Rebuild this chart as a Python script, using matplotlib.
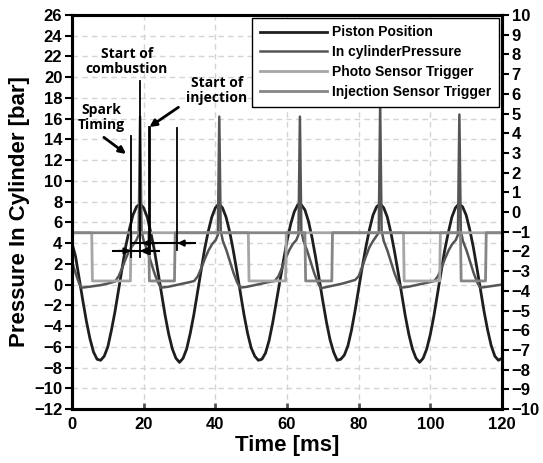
import numpy as np
import matplotlib
matplotlib.use("Agg")
import matplotlib.pyplot as plt

plt.rcParams['font.family'] = ['Liberation Sans', 'DejaVu Sans']
plt.rcParams['font.weight'] = 'bold'

piston_t = list(range(0, 121))
piston_v = [4.0, 2.7, 0.6, -1.5, -3.5, -5.2, -6.5, -7.2, -7.3, -6.9,
            -6.0, -4.4, -2.6, -0.5, 1.6, 3.7, 5.3, 6.7, 7.5, 7.8,
            7.4, 6.5, 5.0, 3.3, 1.2, -0.9, -3.0, -4.8, -6.2, -7.1,
            -7.5, -7.1, -6.2, -4.7, -2.9, -0.8, 1.3, 3.4, 5.1, 6.5,
            7.4, 7.8, 7.4, 6.5, 5.1, 3.3, 1.3, -0.8, -2.9, -4.7,
            -6.1, -6.9, -7.3, -7.2, -6.6, -5.4, -3.7, -1.7, 0.3, 2.3,
            4.2, 5.8, 7.0, 7.7, 7.7, 7.2, 6.1, 4.5, 2.6, 0.5,
            -1.6, -3.6, -5.3, -6.5, -7.3, -7.2, -6.8, -5.9, -4.4, -2.5,
            -0.4, 1.7, 3.6, 5.3, 6.7, 7.5, 7.8, 7.4, 6.5, 5.0,
            3.2, 1.2, -0.9, -3.0, -4.8, -6.2, -7.1, -7.5, -7.1, -6.2,
            -4.8, -3.0, -0.9, 1.2, 3.3, 5.0, 6.5, 7.4, 7.8, 7.5,
            6.7, 5.3, 3.6, 1.6, -0.5, -2.6, -4.4, -5.9, -6.9, -7.3,
            -7.1]

# in-cylinder pressure
pressure_t = [0, 1, 2, 2.6, 5, 8, 10, 12, 13, 14, 15, 16, 17, 18, 18.6, 19.0, 19.4,
              20, 21, 22, 23, 24, 24.8, 27, 29, 31, 33,
              34.1, 35.1, 36.1, 37.1, 38.1, 39.1, 40.1, 40.7, 41.1, 41.5,
              42.1, 43.1, 44.1, 45.1, 46.1, 46.9, 49, 51, 53, 55,
              56.6, 57.6, 58.6, 59.6, 60.6, 61.6, 62.6, 63.2, 63.6, 64.0,
              64.6, 65.6, 66.6, 67.6, 68.6, 69.4, 71.5, 73.5, 75.5, 77.5,
              79, 80, 81, 82, 83, 84, 85, 85.6, 86.0, 86.4,
              87, 88, 89, 90, 91, 91.8, 94, 96, 98, 100,
              101.1, 102.1, 103.1, 104.1, 105.1, 106.1, 107.1, 107.7, 108.1, 108.5,
              109.1, 110.1, 111.1, 112.1, 113.1, 113.9, 116, 118, 120]
pressure_v = [2.2, 1.1, 0.1, -0.3, -0.2, -0.05, 0.1, 0.3, 0.8, 1.6, 2.5, 3.3, 3.8, 4.3, 4.8, 16.2, 5.2,
              4.2, 3.3, 2.2, 1.1, 0.2, -0.3, -0.2, -0.05, 0.1, 0.25,
              0.35, 0.8, 1.6, 2.5, 3.3, 3.9, 4.3, 4.8, 16.2, 5.2,
              4.2, 3.3, 2.2, 1.1, 0.2, -0.3, -0.2, -0.05, 0.1, 0.25,
              0.35, 0.8, 1.6, 2.5, 3.3, 3.9, 4.3, 4.8, 16.2, 5.2,
              4.2, 3.3, 2.2, 1.1, 0.2, -0.35, -0.2, -0.05, 0.1, 0.3,
              0.45, 0.8, 1.7, 2.7, 3.6, 4.2, 4.7, 5.0, 17.4, 5.2,
              4.2, 3.3, 2.2, 1.1, 0.2, -0.3, -0.2, -0.05, 0.1, 0.25,
              0.35, 0.8, 1.6, 2.5, 3.3, 3.9, 4.3, 4.8, 16.4, 5.2,
              4.2, 3.3, 2.2, 1.1, 0.2, -0.3, -0.2, -0.1, 0.0]

# sensor triggers (square waves)
photo_t = [0, 5.5, 5.7, 16.3, 16.5, 49.2, 49.4, 59.6, 59.8, 92.5, 92.7, 102.6, 102.8, 120]
photo_v = [5, 5, 0.35, 0.35, 5, 5, 0.35, 0.35, 5, 5, 0.35, 0.35, 5, 5]
inj_t = [0, 21.4, 21.6, 28.6, 28.8, 65.0, 65.2, 72.5, 72.7, 108.4, 108.6, 115.4, 115.6, 120]
inj_v = [5, 5, 0.35, 0.35, 5, 5, 0.35, 0.35, 5, 5, 0.35, 0.35, 5, 5]

labels = ['Piston Position', 'In cylinderPressure', 'Photo Sensor Trigger', 'Injection Sensor Trigger']
colors = ['#1e1e1e', '#555555', '#a6a6a6', '#858585']

# event markers: (time, bottom, top, width)
markers = [(16.4, 2.7, 14.3, 1.3), (19.0, 2.7, 19.6, 1.3), (21.5, 3.0, 15.2, 2.0), (29.2, 3.3, 15.1, 1.3)]

fig = plt.figure(figsize=(5.43, 4.63), dpi=100)
ax = fig.add_axes([0.1326, 0.1166, 0.7919, 0.851])

ax.plot(piston_t, piston_v, color=colors[0], lw=2.0, label=labels[0], zorder=3)
ax.plot(pressure_t, pressure_v, color=colors[1], lw=1.8, label=labels[1], zorder=4)
ax.plot(photo_t, photo_v, color=colors[2], lw=2.0, label=labels[2], zorder=5)
ax.plot(inj_t, inj_v, color=colors[3], lw=2.0, label=labels[3], zorder=5)

for x, lo, hi, w in markers:
    ax.plot([x, x], [lo, hi], color='black', lw=w, zorder=6)

# timing arrows
ax.plot([11.5, 24.2], [3.25, 3.25], color='black', lw=1.5, zorder=6)
ax.plot([16.4, 34.2], [4.0, 4.0], color='black', lw=1.5, zorder=6)
ap = dict(arrowstyle='-|>', color='black', lw=1.5, mutation_scale=9, shrinkA=0, shrinkB=0)
ax.annotate('', xy=(16.4, 3.25), xytext=(13.0, 3.25), arrowprops=ap, zorder=7)
ax.annotate('', xy=(19.0, 3.25), xytext=(22.5, 3.25), arrowprops=ap, zorder=7)
ax.annotate('', xy=(19.6, 4.0), xytext=(23.5, 4.0), arrowprops=ap, zorder=7)
ax.annotate('', xy=(29.4, 4.0), xytext=(33.0, 4.0), arrowprops=ap, zorder=7)

tfont = dict(family=['Open Sans', 'DejaVu Sans'], fontsize=10, fontweight='bold',
             ha='center', va='center', linespacing=1.05)
ap2 = dict(arrowstyle='-|>', color='black', lw=2.0, mutation_scale=10, shrinkA=0, shrinkB=0)
ax.text(8.3, 16.1, 'Spark\nTiming', **tfont)
ax.annotate('', xy=(15.1, 12.6), xytext=(8.9, 14.2), arrowprops=ap2)
ax.text(15.3, 21.5, 'Start of\ncombustion', **tfont)
ax.text(40.4, 18.7, 'Start of\ninjection', **tfont)
ax.annotate('', xy=(21.6, 15.2), xytext=(29.7, 17.1), arrowprops=ap2)

ax.set_xlim(0, 120)
ax.set_ylim(-12, 26)
ax.set_xticks(range(0, 121, 20))
ax.set_yticks(range(-12, 27, 2))
ax.grid(True, color='#d4d4d4', lw=1.0, ls=(0, (4, 3)))
ax.set_axisbelow(True)
for s in ax.spines.values():
    s.set_linewidth(2.2)
ax.tick_params(axis='y', direction='out', length=5, width=1.5, labelsize=12, pad=2)
ax.tick_params(axis='x', direction='in', length=4, width=2, color='#555555', labelsize=12, pad=6)
for lab in ax.get_xticklabels() + ax.get_yticklabels():
    lab.set_fontweight('bold')

ax2 = ax.twinx()
ax2.set_ylim(-10, 10)
ax2.set_yticks(range(-10, 11, 1))
ax2.tick_params(axis='y', direction='out', length=5, width=1.5, labelsize=12, pad=2)
for lab in ax2.get_yticklabels():
    lab.set_fontweight('bold')
for s in ax2.spines.values():
    s.set_linewidth(2.2)

ax.set_xlabel('Time [ms]', fontsize=16, fontweight='bold', labelpad=2)
ax.set_ylabel('Pressure In Cylinder [bar]', fontsize=16, fontweight='bold', labelpad=3)

leg = ax2.legend(*ax.get_legend_handles_labels(), loc='upper right', fontsize=10,
                 handlelength=4.8, handletextpad=0.4, labelspacing=0.42,
                 borderaxespad=0.2, fancybox=False, framealpha=1, edgecolor='black',
                 borderpad=0.55)
leg.get_frame().set_linewidth(1.0)
for t in leg.get_texts():
    t.set_fontweight('bold')

fig.savefig('out.png', dpi=100)
